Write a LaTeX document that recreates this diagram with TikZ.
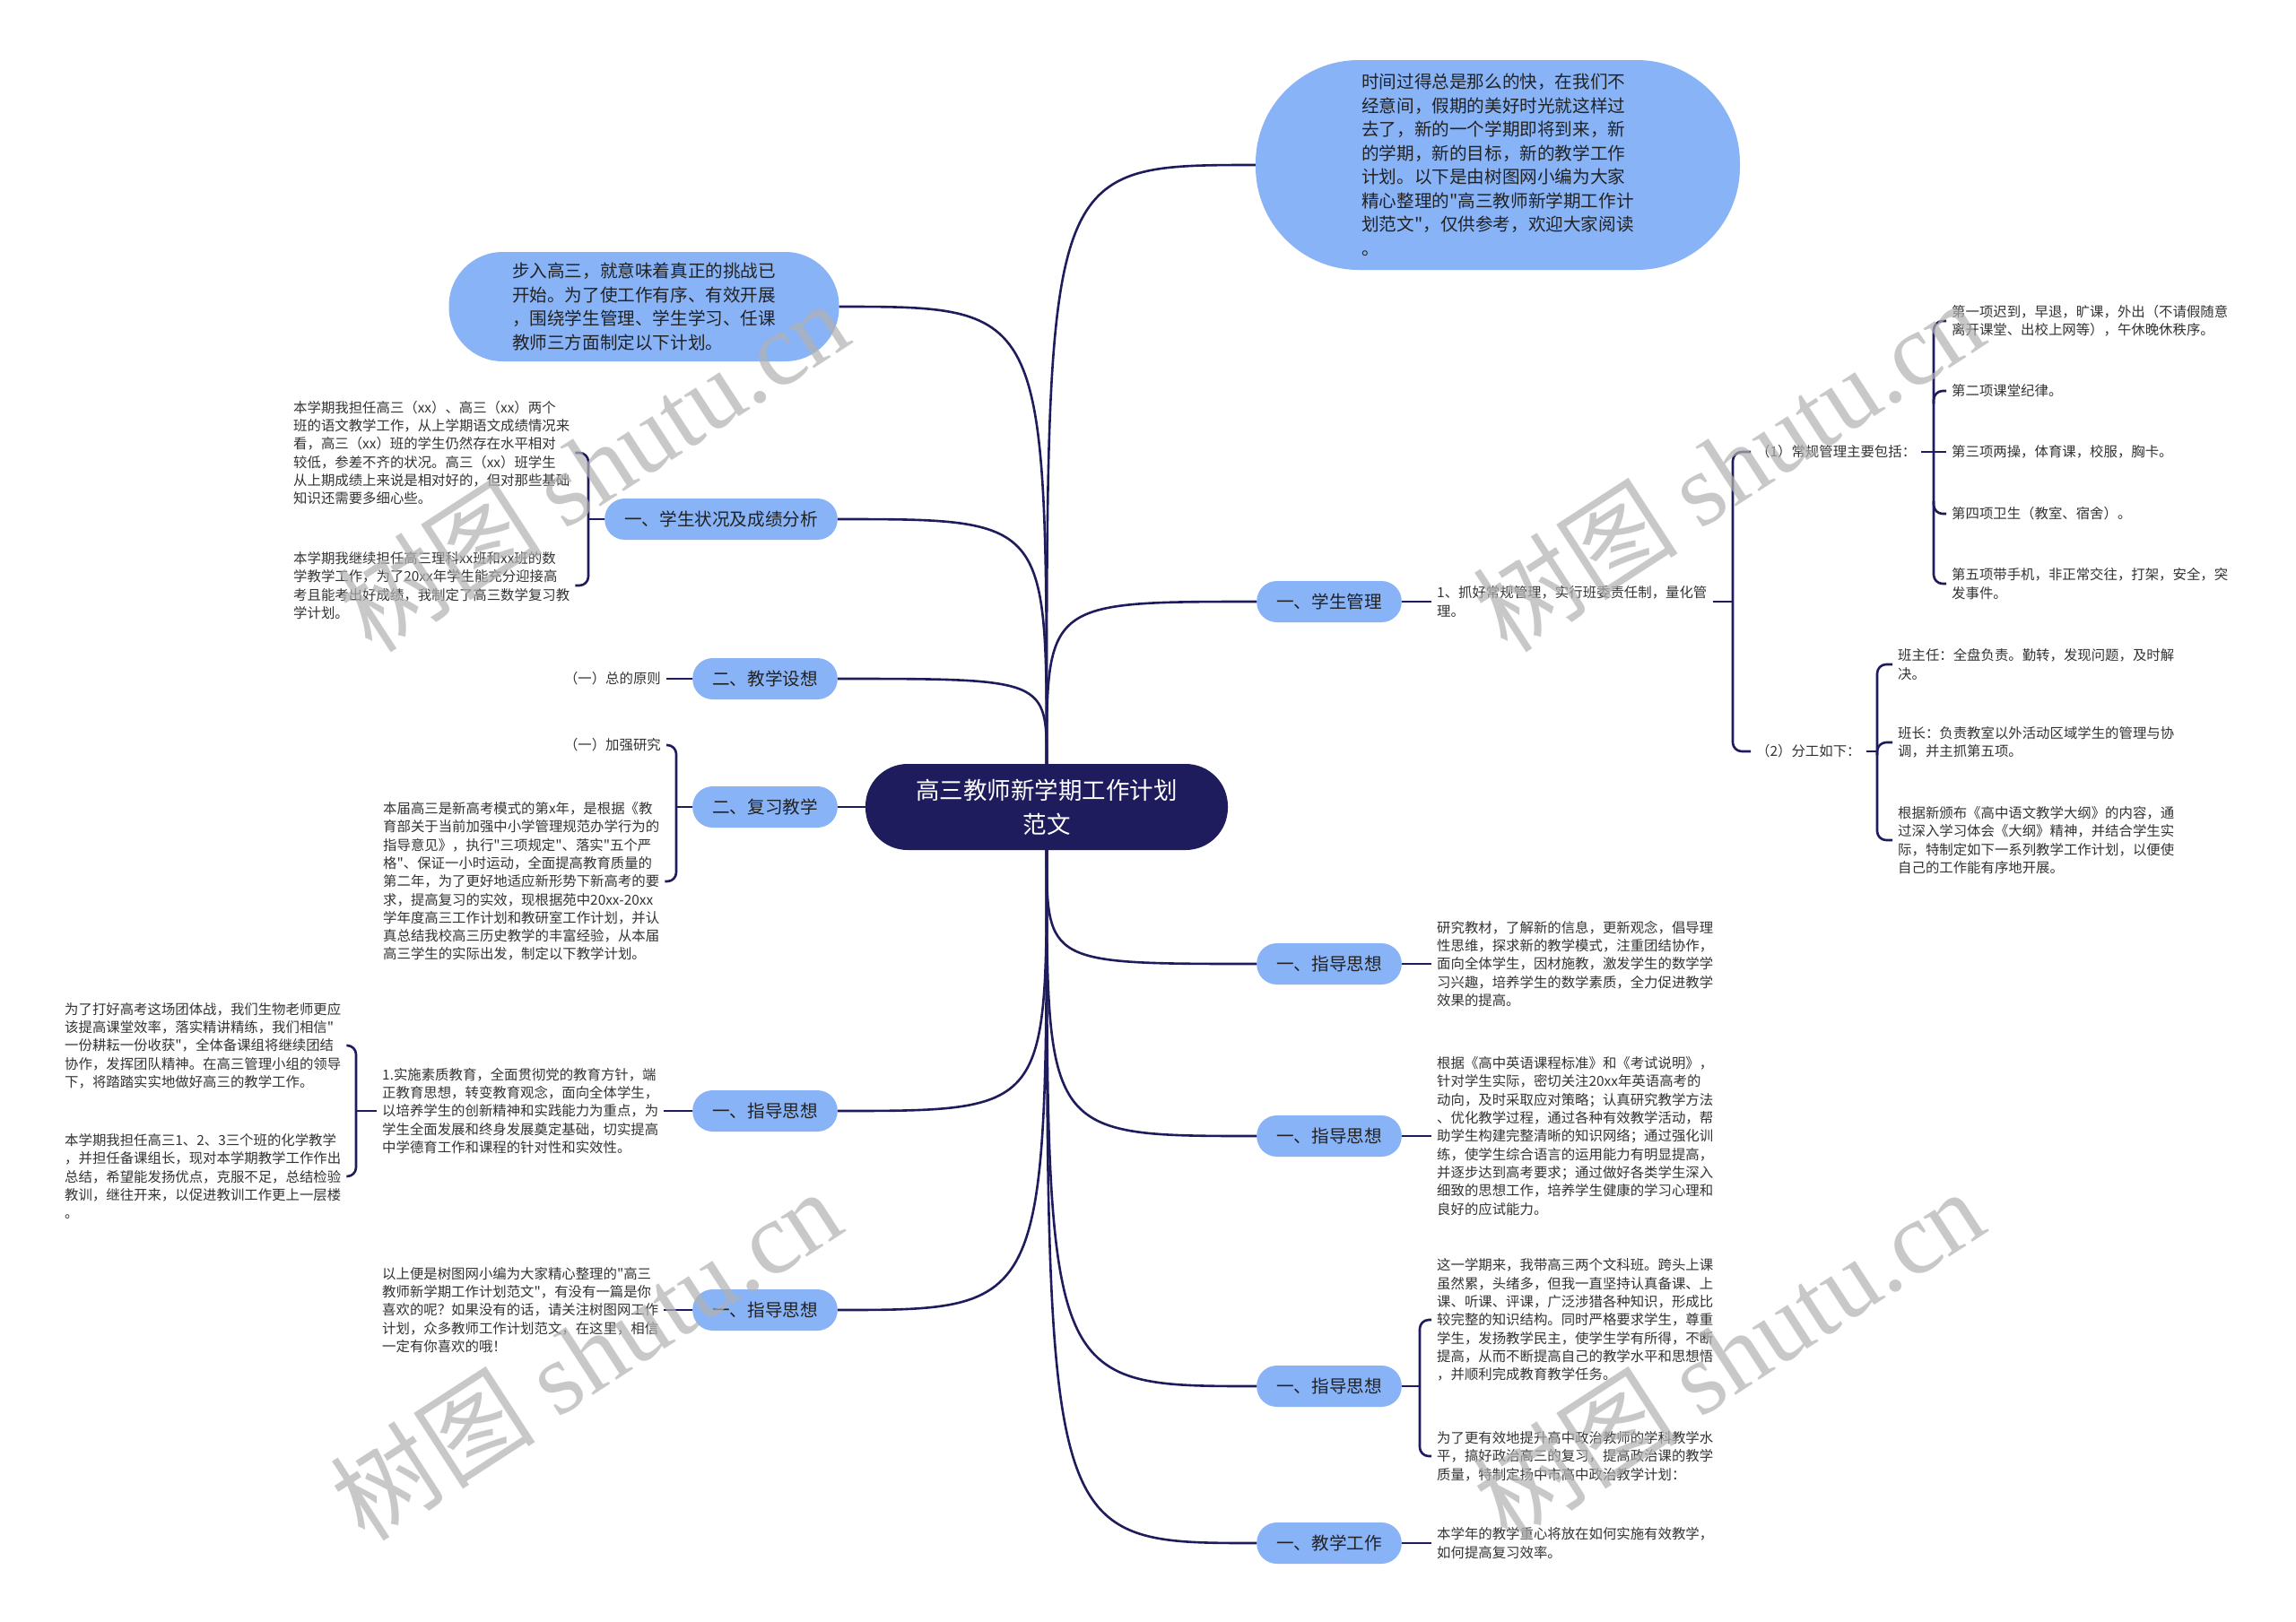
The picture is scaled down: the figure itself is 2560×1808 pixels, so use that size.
\documentclass[tikz,border=0pt]{standalone}
\usepackage{fontspec}
\setmainfont{Noto Sans CJK SC}[Ligatures=TeXOff]
\newfontfamily\wmlatin{Liberation Serif}
\usepackage{tikz}
\usetikzlibrary{calc}

\definecolor{navy}{HTML}{1E1C5C}
\definecolor{pillblue}{HTML}{88B3F7}
\definecolor{pilltext}{HTML}{222222}
\definecolor{leaftext}{HTML}{333333}

\newcommand{\rootsize}{\fontsize{26.5pt}{38pt}\selectfont}
\newcommand{\pillsize}{\fontsize{19.6pt}{26pt}\selectfont}
\newcommand{\bubblesize}{\fontsize{19.6pt}{26.5pt}\selectfont}
\newcommand{\leafsize}{\fontsize{15.4pt}{20.3pt}\selectfont}
\newcommand{\wmsize}{\fontsize{115pt}{115pt}\selectfont}

\begin{document}
\begin{tikzpicture}[x=1pt, y=-1pt,
	conn/.style={draw=navy, line width=2.6pt},
	root/.style={fill=navy, text=white, rounded corners=47pt, minimum width=404pt, minimum height=96pt, align=center, font=\rootsize, inner sep=0pt},
	pill/.style={fill=pillblue, text=pilltext, rounded corners=22.5pt, minimum height=46pt, inner xsep=22pt, inner ysep=0pt, font=\pillsize},
	bubble/.style={fill=pillblue, text=pilltext, align=left, font=\bubblesize, inner sep=0pt},
	leaf/.style={text=leaftext, align=left, font=\leafsize, inner xsep=6pt, inner ysep=2pt},
	wmark/.style={text=black!30, text opacity=0.7, font=\wmsize, rotate=33}]
	\fill[white] (0,0) rectangle (2560,1808);
	\useasboundingbox (0,0) rectangle (2560,1808);

	\node[root] (cen) at (1167,900) {高三教师新学期工作计划\\范文};

	\node[bubble, minimum width=540pt, minimum height=234pt, rounded corners=115pt] (intro) at (1670,184) {时间过得总是那么的快，在我们不\\
		经意间，假期的美好时光就这样过\\
		去了，新的一个学期即将到来，新\\
		的学期，新的目标，新的教学工作\\
		计划。以下是由树图网小编为大家\\
		精心整理的"高三教师新学期工作计\\
		划范文"，仅供参考，欢迎大家阅读\\
		。};
	\node[bubble, minimum width=435pt, minimum height=122pt, rounded corners=60pt] (start) at (718,342) {步入高三，就意味着真正的挑战已\\
		开始。为了使工作有序、有效开展\\
		，围绕学生管理、学生学习、任课\\
		教师三方面制定以下计划。};

	\node[pill, anchor=west] (r1) at (1401,671) {一、学生管理};
	\node[pill, anchor=west] (r2) at (1401,1075) {一、指导思想};
	\node[pill, anchor=west] (r3) at (1401,1267) {一、指导思想};
	\node[pill, anchor=west] (r4) at (1401,1546) {一、指导思想};
	\node[pill, anchor=west] (r5) at (1401,1721) {一、教学工作};

	\node[pill, anchor=east] (l1) at (934,579) {一、学生状况及成绩分析};
	\node[pill, anchor=east] (l2) at (934,757) {二、教学设想};
	\node[pill, anchor=east] (l3) at (934,900) {二、复习教学};
	\node[pill, anchor=east] (l4) at (934,1239) {一、指导思想};
	\node[pill, anchor=east] (l5) at (934,1461) {一、指导思想};

	\node[leaf, anchor=west] (r1a) at (1596,671) {1、抓好常规管理，实行班委责任制，量化管\\理。};
	\node[leaf, anchor=west] (r1b) at (1952,504) {（1）常规管理主要包括：};
	\node[leaf, anchor=west] (r1c) at (1952,838) {（2）分工如下：};
	\node[leaf, anchor=west] (r1b1) at (2170,358) {第一项迟到，早退，旷课，外出（不请假随意\\离开课堂、出校上网等），午休晚休秩序。};
	\node[leaf, anchor=west] (r1b2) at (2170,436) {第二项课堂纪律。};
	\node[leaf, anchor=west] (r1b3) at (2170,504) {第三项两操，体育课，校服，胸卡。};
	\node[leaf, anchor=west] (r1b4) at (2170,573) {第四项卫生（教室、宿舍）。};
	\node[leaf, anchor=west] (r1b5) at (2170,651) {第五项带手机，非正常交往，打架，安全，突\\发事件。};
	\node[leaf, anchor=west] (r1c1) at (2110,741) {班主任：全盘负责。勤转，发现问题，及时解\\决。};
	\node[leaf, anchor=west] (r1c2) at (2110,828) {班长：负责教室以外活动区域学生的管理与协\\调，并主抓第五项。};
	\node[leaf, anchor=west] (r1c3) at (2110,937) {根据新颁布《高中语文教学大纲》的内容，通\\
		过深入学习体会《大纲》精神，并结合学生实\\
		际，特制定如下一系列教学工作计划，以便使\\
		自己的工作能有序地开展。};
	\node[leaf, anchor=west] (r2a) at (1596,1075) {研究教材，了解新的信息，更新观念，倡导理\\
		性思维，探求新的教学模式，注重团结协作，\\
		面向全体学生，因材施教，激发学生的数学学\\
		习兴趣，培养学生的数学素质，全力促进教学\\
		效果的提高。};
	\node[leaf, anchor=west] (r3a) at (1596,1267) {根据《高中英语课程标准》和《考试说明》，\\
		针对学生实际，密切关注20xx年英语高考的\\
		动向，及时采取应对策略；认真研究教学方法\\
		、优化教学过程，通过各种有效教学活动，帮\\
		助学生构建完整清晰的知识网络；通过强化训\\
		练，使学生综合语言的运用能力有明显提高，\\
		并逐步达到高考要求；通过做好各类学生深入\\
		细致的思想工作，培养学生健康的学习心理和\\
		良好的应试能力。};
	\node[leaf, anchor=west] (r4a) at (1596,1472) {这一学期来，我带高三两个文科班。跨头上课\\
		虽然累，头绪多，但我一直坚持认真备课、上\\
		课、听课、评课，广泛涉猎各种知识，形成比\\
		较完整的知识结构。同时严格要求学生，尊重\\
		学生，发扬教学民主，使学生学有所得，不断\\
		提高，从而不断提高自己的教学水平和思想悟\\
		，并顺利完成教育教学任务。};
	\node[leaf, anchor=west] (r4b) at (1596,1624) {为了更有效地提升高中政治教师的学科教学水\\
		平，搞好政治高三的复习，提高政治课的教学\\
		质量，特制定扬中市高中政治教学计划：};
	\node[leaf, anchor=west] (r5a) at (1596,1721) {本学年的教学重心将放在如何实施有效教学，\\如何提高复习效率。};

	\node[leaf, anchor=west] (l1a) at (321,505) {本学期我担任高三（xx）、高三（xx）两个\\
		班的语文教学工作，从上学期语文成绩情况来\\
		看，高三（xx）班的学生仍然存在水平相对\\
		较低，参差不齐的状况。高三（xx）班学生\\
		从上期成绩上来说是相对好的，但对那些基础\\
		知识还需要多细心些。};
	\node[leaf, anchor=west] (l1b) at (321,653) {本学期我继续担任高三理科xx班和xx班的数\\
		学教学工作，为了20xx年学生能充分迎接高\\
		考且能考出好成绩，我制定了高三数学复习教\\
		学计划。};
	\node[leaf, anchor=east] (l2a) at (743,757) {（一）总的原则};
	\node[leaf, anchor=east] (l3a) at (743,831) {（一）加强研究};
	\node[leaf, anchor=west] (l3b) at (421,983) {本届高三是新高考模式的第x年，是根据《教\\
		育部关于当前加强中小学管理规范办学行为的\\
		指导意见》，执行"三项规定"、落实"五个严\\
		格"、保证一小时运动，全面提高教育质量的\\
		第二年，为了更好地适应新形势下新高考的要\\
		求，提高复习的实效，现根据苑中20xx-20xx\\
		学年度高三工作计划和教研室工作计划，并认\\
		真总结我校高三历史教学的丰富经验，从本届\\
		高三学生的实际出发，制定以下教学计划。};
	\node[leaf, anchor=west] (l4a) at (420,1239) {1.实施素质教育，全面贯彻党的教育方针，端\\
		正教育思想，转变教育观念，面向全体学生，\\
		以培养学生的创新精神和实践能力为重点，为\\
		学生全面发展和终身发展奠定基础，切实提高\\
		中学德育工作和课程的针对性和实效性。};
	\node[leaf, anchor=west] (l4b) at (66,1166) {为了打好高考这场团体战，我们生物老师更应\\
		该提高课堂效率，落实精讲精练，我们相信"\\
		一份耕耘一份收获"，全体备课组将继续团结\\
		协作，发挥团队精神。在高三管理小组的领导\\
		下，将踏踏实实地做好高三的教学工作。};
	\node[leaf, anchor=west] (l4c) at (66,1312) {本学期我担任高三1、2、3三个班的化学教学\\
		，并担任备课组长，现对本学期教学工作作出\\
		总结，希望能发扬优点，克服不足，总结检验\\
		教训，继往开来，以促进教训工作更上一层楼\\
		。};
	\node[leaf, anchor=west] (l5a) at (420,1461) {以上便是树图网小编为大家精心整理的"高三\\
		教师新学期工作计划范文"，有没有一篇是你\\
		喜欢的呢？如果没有的话，请关注树图网工作\\
		计划，众多教师工作计划范文，在这里，相信\\
		一定有你喜欢的哦！};

	\coordinate (r1x) at (1932,671);
	\coordinate (r1bx) at (2156,504);
	\coordinate (r1cx) at (2093,838);
	\coordinate (r4x) at (1583,1546);
	\coordinate (l1x) at (656,579);
	\coordinate (l3x) at (754,900);
	\coordinate (l4x) at (397,1239);

	\draw[conn] (cen.north) .. controls (cen.north |- intro.west) .. (intro.west);
	\draw[conn] (cen.north) .. controls (cen.north |- r1.west) .. (r1.west);
	\draw[conn] (cen.north) .. controls (cen.north |- start.east) .. (start.east);
	\draw[conn] (cen.north) .. controls (cen.north |- l1.east) .. (l1.east);
	\draw[conn] (cen.north) .. controls (cen.north |- l2.east) .. (l2.east);
	\draw[conn] (cen.west) -- (l3.east);
	\draw[conn] (cen.south) .. controls (cen.south |- l4.east) .. (l4.east);
	\draw[conn] (cen.south) .. controls (cen.south |- l5.east) .. (l5.east);
	\draw[conn] (cen.south) .. controls (cen.south |- r2.west) .. (r2.west);
	\draw[conn] (cen.south) .. controls (cen.south |- r3.west) .. (r3.west);
	\draw[conn] (cen.south) .. controls (cen.south |- r4.west) .. (r4.west);
	\draw[conn] (cen.south) .. controls (cen.south |- r5.west) .. (r5.west);

	\draw[conn] (r1.east) -- (r1a.west);
	\draw[conn] (r1a.east) -- (r1x);
	\draw[conn, rounded corners=10pt] (r1b.west) -- (r1b.west -| r1x) -- (r1c.west -| r1x) -- (r1c.west);
	\draw[conn] (r1b.east) -- (r1bx);
	\draw[conn, rounded corners=10pt] (r1b1.west) -- (r1b1.west -| r1bx) -- (r1b5.west -| r1bx) -- (r1b5.west);
	\draw[conn, rounded corners=10pt] ($(r1b2.west -| r1bx)+(0,14)$) -- (r1b2.west -| r1bx) -- (r1b2.west);
	\draw[conn] (r1bx) -- (r1b3.west);
	\draw[conn, rounded corners=10pt] ($(r1b4.west -| r1bx)+(0,-14)$) -- (r1b4.west -| r1bx) -- (r1b4.west);
	\draw[conn] (r1c.east) -- (r1cx);
	\draw[conn, rounded corners=10pt] (r1c1.west) -- (r1c1.west -| r1cx) -- (r1c3.west -| r1cx) -- (r1c3.west);
	\draw[conn, rounded corners=10pt] ($(r1c2.west -| r1cx)+(0,14)$) -- (r1c2.west -| r1cx) -- (r1c2.west);
	\draw[conn] (r2.east) -- (r2a.west);
	\draw[conn] (r3.east) -- (r3a.west);
	\draw[conn] (r4.east) -- (r4x);
	\draw[conn, rounded corners=10pt] (r4a.west) -- (r4a.west -| r4x) -- (r4b.west -| r4x) -- (r4b.west);
	\draw[conn] (r5.east) -- (r5a.west);

	\draw[conn] (l1.west) -- (l1x);
	\draw[conn, rounded corners=10pt] (l1a.east) -- (l1a.east -| l1x) -- (l1b.east -| l1x) -- (l1b.east);
	\draw[conn] (l2a.east) -- (l2.west);
	\draw[conn] (l3.west) -- (l3x);
	\draw[conn, rounded corners=10pt] (l3a.east) -- (l3a.east -| l3x) -- (l3b.east -| l3x) -- (l3b.east);
	\draw[conn] (l4a.east) -- (l4.west);
	\draw[conn] (l4a.west) -- (l4x);
	\draw[conn, rounded corners=10pt] (l4b.east) -- (l4b.east -| l4x) -- (l4c.east -| l4x) -- (l4c.east);
	\draw[conn] (l5a.east) -- (l5.west);

	\node[wmark] (wm1) at (661,519) {树图 {\wmlatin shutu.cn}};
	\node[wmark] (wm2) at (1927,519) {树图 {\wmlatin shutu.cn}};
	\node[wmark] (wm3) at (653,1510) {树图 {\wmlatin shutu.cn}};
	\node[wmark] (wm4) at (1927,1510) {树图 {\wmlatin shutu.cn}};
\end{tikzpicture}
\end{document}
